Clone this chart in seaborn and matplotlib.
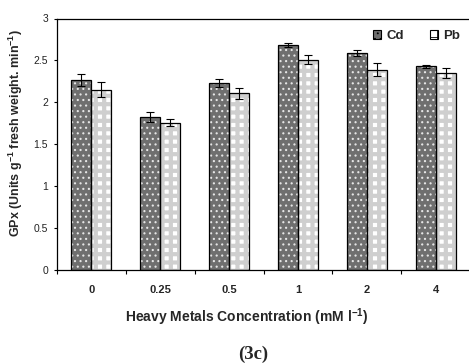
import numpy as np
import pandas as pd
import matplotlib
matplotlib.use("Agg")
import matplotlib.pyplot as plt
import matplotlib.patches as mpatches
import seaborn as sns

concentrations = ["0", "0.25", "0.5", "1", "2", "4"]
cd_values = [2.27, 1.83, 2.23, 2.68, 2.59, 2.43]
pb_values = [2.15, 1.76, 2.11, 2.51, 2.39, 2.35]
cd_errors = [0.07, 0.06, 0.045, 0.025, 0.04, 0.02]
pb_errors = [0.09, 0.045, 0.065, 0.05, 0.075, 0.06]
metals = ["Cd", "Pb"]
y_ticks = [0, 0.5, 1, 1.5, 2, 2.5, 3]
y_tick_labels = ["0", "0.5", "1", "1.5", "2", "2.5", "3"]

df = pd.DataFrame({
    "conc": concentrations * 2,
    "value": cd_values + pb_values,
    "err": cd_errors + pb_errors,
    "metal": ["Cd"] * 6 + ["Pb"] * 6,
})

sns.set_style("white")
plt.rcParams["font.family"] = ["Liberation Sans", "DejaVu Sans"]
plt.rcParams["mathtext.fontset"] = "custom"
plt.rcParams["mathtext.rm"] = "Liberation Sans:bold"
plt.rcParams["mathtext.bf"] = "Liberation Sans:bold"
plt.rcParams["mathtext.it"] = "Liberation Sans:bold"
plt.rcParams["mathtext.default"] = "bf"
plt.rcParams["hatch.linewidth"] = 0.6

W, H = 469, 364
fig = plt.figure(figsize=(W / 100, H / 100), dpi=100)
ax = fig.add_axes([57 / W, 1 - 270.3 / H, 413 / W, (270.3 - 18.5) / H])

sns.barplot(data=df, x="conc", y="value", hue="metal", order=concentrations,
            hue_order=metals, errorbar=None, width=0.58, ax=ax,
            palette=["#6e6e6e", "#ffffff"], legend=False, linewidth=0)

styles = {
    "Cd": dict(face="#6f6f6f", hatch="...", hc="#e6e6e6", hlw=0.8),
    "Pb": dict(face="#ffffff", hatch="++", hc="#cfcfcf", hlw=3.0),
}

bars = list(ax.patches)
for i, p in enumerate(bars):
    metal = metals[i // 6]
    st = styles[metal]
    p.set_facecolor(st["face"])
    p.set_hatch(st["hatch"])
    p.set_edgecolor(st["hc"])
    p.set_linewidth(0)
    if hasattr(p, "set_hatch_linewidth"):
        p.set_hatch_linewidth(st["hlw"])
    else:
        p._hatch_linewidth = st["hlw"]
    outline = mpatches.Rectangle((p.get_x(), p.get_y()), p.get_width(), p.get_height(),
                                 fill=False, edgecolor="black", linewidth=0.9, zorder=3)
    ax.add_patch(outline)
    err = df["err"].iloc[i]
    ax.errorbar(p.get_x() + p.get_width() / 2, p.get_height(), yerr=err,
                color="black", elinewidth=0.8, capsize=3, capthick=0.8, zorder=4, fmt="none")

ax.set_ylim(0, 3)
ax.set_xlim(-0.5, 5.5)
ax.set_yticks(y_ticks)
ax.set_yticklabels(y_tick_labels)
ax.set_xticks(np.arange(-0.5, 6.0, 1.0))
ax.set_xticklabels([])
ax.set_xticks(np.arange(6), minor=True)
ax.set_xticklabels(concentrations, minor=True, fontweight="bold", fontsize=8)
ax.tick_params(axis="x", which="major", direction="out", length=3, width=0.8, color="black", bottom=True)
ax.tick_params(axis="x", which="minor", length=0, pad=10.5, bottom=True)
ax.tick_params(axis="y", direction="out", length=2.5, width=0.8, color="black",
               labelsize=7.5, pad=4, left=True, labelcolor="#222222")

for s in ["left", "bottom", "top"]:
    ax.spines[s].set_visible(True)
    ax.spines[s].set_color("black")
    ax.spines[s].set_linewidth(0.9)
ax.spines["right"].set_visible(False)

ax.set_ylabel("GPx (Units g$^{-1}$ fresh weight. min$^{-1}$)", fontweight="bold", fontsize=9, va="center")
ax.yaxis.set_label_coords((16 - 57) / 413, (270.3 - 133) / 251.8)
ax.set_xlabel("Heavy Metals Concentration (mM l$^{-1}$)", fontweight="bold", fontsize=10, va="center")
ax.xaxis.set_label_coords((247 - 57) / 413, (270.3 - 316.7) / 251.8)

handles = []
for m in metals:
    st = styles[m]
    h = mpatches.Patch(facecolor=st["face"], hatch=st["hatch"], edgecolor="black", linewidth=0.8, label=m)
    handles.append(h)
leg = fig.legend(handles=handles, labels=metals, loc="center left",
                 bbox_to_anchor=(373 / W, 1 - 36 / H), ncol=2, frameon=False,
                 handlelength=0.6, handleheight=0.6, handletextpad=0.4, columnspacing=2.0,
                 prop={"weight": "bold", "size": 9.5}, borderaxespad=0, borderpad=0)

fig.text(253 / W, 1 - 354.5 / H, "(3c)", ha="center", va="center",
         family=["Liberation Serif", "DejaVu Serif"], fontweight="bold", fontsize=13.5)

fig.savefig("out.png", dpi=100)
